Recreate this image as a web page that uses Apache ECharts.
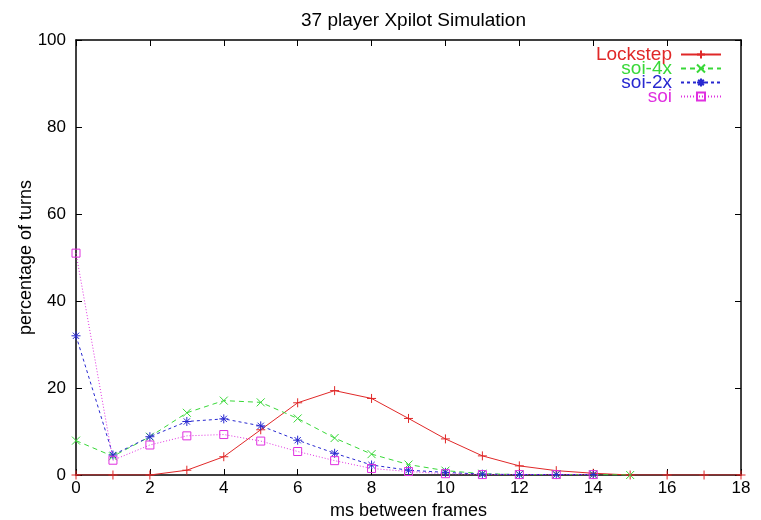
<!DOCTYPE html>
<html><head><meta charset="utf-8">
<script src="https://cdn.jsdelivr.net/npm/echarts@6/dist/echarts.min.js"></script>
<style>html,body{margin:0;padding:0;background:#fff}#c{width:761px;height:520px}</style>
</head><body><div id="c"></div>
<script>
const xValues = [0,1,2,3,4,5,6,7,8,9,10,11,12,13,14,15,16,17,18];
const lockstep = [0,0,0,1.1,4.2,10.4,16.6,19.4,17.6,13.0,8.3,4.4,2.1,1.0,0.4,0,0,0,0];
const soi4x = [7.9,4.3,8.8,14.3,17.1,16.7,13.0,8.5,4.8,2.4,1.0,0.3,0.1,0.1,0.1,0];
const soi2x = [32,4.6,8.8,12.3,12.9,11.3,8.0,5.0,2.3,1.1,0.6,0.2,0.1,0.1,0.1];
const soi = [51,3.4,6.9,9.0,9.3,7.8,5.4,3.3,1.5,0.8,0.3,0.1,0.1,0.1,0.1];
const xTicks = [0,2,4,6,8,10,12,14,16,18];
const yTicks = [0,20,40,60,80,100];

const pairs = arr => arr.map((v,i)=>[xValues[i], v]);
const C = {red:'#e02828', green:'#38d838', blue:'#2828d0', mag:'#e030e0'};
const plus = 'path://M0,5L10,5M5,0L5,10';
const cross = 'path://M0,0L10,10M10,0L0,10';
const star = 'path://M0,5L10,5M5,0L5,10M1.5,1.5L8.5,8.5M8.5,1.5L1.5,8.5';
const font = 'Liberation Sans';

function ser(name, data, color, symbol, dash, size){
  return {
    name, type:'line', data: pairs(data), symbol, symbolSize: size,
    lineStyle:{color, width:1, type:dash},
    itemStyle:{color: symbol==='rect' ? 'rgba(255,255,255,0)' : color, borderColor:color, borderWidth:1},
    animation:false, z: 2
  };
}
const tickStyle = {inside:true, length:6, lineStyle:{color:'#000'}};
const lineSty = {show:true, onZero:false, lineStyle:{color:'#000', width:1.5}};

const chart = echarts.init(document.getElementById('c'));
chart.setOption({
  backgroundColor:'#fff',
  title:{text:'37 player Xpilot Simulation', left:296, top:6,
    textStyle:{fontFamily:font, fontSize:19, fontWeight:'normal', color:'#000'}},
  grid:{left:76, right:20, top:40, bottom:45, outerBoundsMode:'none', containLabel:false},
  legend:{
    orient:'vertical', right:39, top:45, align:'right', padding:0, itemWidth:40, itemHeight:10, itemGap:-5,
    textStyle:{fontFamily:font, fontSize:19, padding:[0,4,0,0]},
    data:[
      {name:'Lockstep', textStyle:{color:C.red}},
      {name:'soi-4x', textStyle:{color:C.green}},
      {name:'soi-2x', textStyle:{color:C.blue}},
      {name:'soi', textStyle:{color:C.mag}}
    ]
  },
  xAxis:[
    {type:'value', min:0, max:18, interval:2, name:'ms between frames', nameLocation:'middle', nameGap:22,
     nameTextStyle:{fontFamily:font, fontSize:18, color:'#000'},
     axisLine:lineSty, axisTick:tickStyle,
     axisLabel:{fontFamily:font, fontSize:17, color:'#000', margin:5}, splitLine:{show:false}},
    {type:'value', min:0, max:18, interval:2, position:'top',
     axisLine:lineSty, axisTick:tickStyle,
     axisLabel:{show:false}, splitLine:{show:false}}
  ],
  yAxis:[
    {type:'value', min:0, max:100, interval:20, name:'percentage of turns', nameLocation:'middle', nameGap:41,
     nameMoveOverlap:false,
     nameTextStyle:{fontFamily:font, fontSize:18, color:'#000'},
     axisLine:lineSty, axisTick:Object.assign({show:true}, tickStyle),
     axisLabel:{fontFamily:font, fontSize:17, color:'#000', margin:10}, splitLine:{show:false}},
    {type:'value', min:0, max:100, interval:20, position:'right',
     axisLine:lineSty, axisTick:Object.assign({show:true}, tickStyle),
     axisLabel:{show:false}, splitLine:{show:false}}
  ],
  series:[
    ser('Lockstep', lockstep, C.red, plus, 'solid', 9),
    ser('soi-4x', soi4x, C.green, cross, [5,4], 8),
    ser('soi-2x', soi2x, C.blue, star, [3,3], 9),
    ser('soi', soi, C.mag, 'rect', [1,2], 8)
  ]
});
</script></body></html>
